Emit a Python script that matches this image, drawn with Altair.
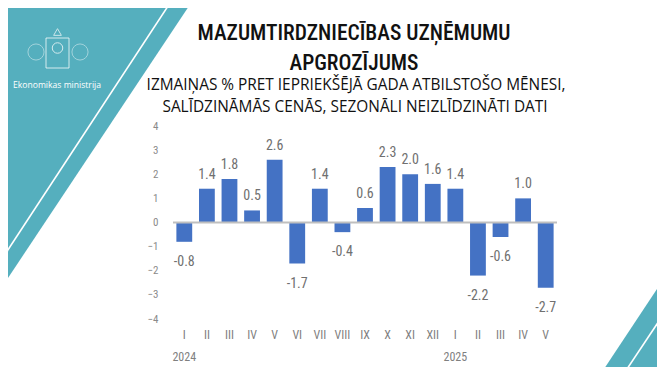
import altair as alt
import pandas as pd

# ---- data ----
months = ["I", "II", "III", "IV", "V", "VI", "VII", "VIII", "IX", "X", "XI", "XII",
          "I", "II", "III", "IV", "V"]
years = [2024] * 12 + [2025] * 5
values = [-0.8, 1.4, 1.8, 0.5, 2.6, -1.7, 1.4, -0.4, 0.6, 2.3, 2.0, 1.6,
          1.4, -2.2, -0.6, 1.0, -2.7]
y_ticks = [-4, -3, -2, -1, 0, 1, 2, 3, 4]

title_lines = ["MAZUMTIRDZNIECĪBAS UZŅĒMUMU", "APGROZĪJUMS"]
subtitle_lines = ["IZMAIŅAS % PRET IEPRIEKŠĒJĀ GADA ATBILSTOŠO MĒNESI,",
                  "SALĪDZINĀMĀS CENĀS, SEZONĀLI NEIZLĪDZINĀTI DATI"]
logo_text = "Ekonomikas ministrija"

# decorative page shapes (page pixel space 665 x 375)
left_tri_x = [0, 193]
left_tri_y = [290, 0]
right_tri_x = [600, 665]
right_tri_y = [375, 277]
left_line_x = [172, 0]
left_line_y = [0, 262]
right_line_x = [623, 665]
right_line_y = [375, 312]

# ---- layout ----
W, H = 384, 193
PAD_L, PAD_T = 165, 118
PAGE_X0, PAGE_Y0 = PAD_L + 8, PAD_T + 8  # plot origin in page pixels

TEAL = "#55AFBE"
BAR = "#4472C4"
NARROW = "Liberation Sans Narrow, Roboto Condensed, DejaVu Sans Condensed, sans-serif"

keys = [f"{m}|{y}|{i}" for i, (m, y) in enumerate(zip(months, years))]
df = pd.DataFrame({"key": keys, "month": months, "year": years, "value": values})
df["label"] = df["value"].map(lambda v: f"{v:.1f}")

xscale = alt.Scale(paddingInner=0.3, paddingOuter=0.15)
yscale = alt.Scale(domain=[-4, 4], nice=False)
xaxis = alt.Axis(title=None, labelExpr="split(datum.label, '|')[0]",
                 labelAngle=0, ticks=False, domain=False, labelPadding=10,
                 labelFont=NARROW, labelFontSize=12, labelColor="#808080")
yaxis = alt.Axis(title=None, values=y_ticks, ticks=False, domain=False, grid=False,
                 labelPadding=15, labelFont=NARROW, labelFontSize=11,
                 labelColor="#8a8a8a", labelOverlap=False)

def X():
    return alt.X("key:N", sort=keys, scale=xscale, axis=xaxis)

def Y(field="value:Q"):
    return alt.Y(field, scale=yscale, axis=yaxis)

base = alt.Chart(df)

bars = base.mark_bar(color=BAR).encode(x=X(), y=Y())

zero = alt.Chart(pd.DataFrame({"z": [0]})).mark_rule(color="#BFBFBF", strokeWidth=2).encode(
    y=Y("z:Q"))

lbl_pos = base.transform_filter("datum.value >= 0").mark_text(
    baseline="alphabetic", dy=-10, font=NARROW, fontSize=14, color="#707070").encode(
    x=X(), y=Y(), text="label:N")
lbl_neg = base.transform_filter("datum.value < 0").mark_text(
    baseline="alphabetic", dy=24, font=NARROW, fontSize=14, color="#707070").encode(
    x=X(), y=Y(), text="label:N")

year_df = df.groupby("year", as_index=False).first()
year_lbl = alt.Chart(year_df).mark_text(
    baseline="middle", font=NARROW, fontSize=12, color="#808080").encode(
    x=X(), y=alt.value(H + 38), text="year:N")

# decorative / text layers in page-pixel coordinates
px = alt.Scale(domain=[0, 665], range=[-PAGE_X0, 665 - PAGE_X0])
py = alt.Scale(domain=[0, 375], range=[-PAGE_Y0, 375 - PAGE_Y0])

def PX(f="px:Q"):
    return alt.X(f, scale=px, axis=None)

def PY(f="py:Q"):
    return alt.Y(f, scale=py, axis=None)

def tri(xs, ys, y2v):
    d = pd.DataFrame({"px": xs, "py": ys, "py2": [y2v] * len(xs)})
    return alt.Chart(d).mark_area(color=TEAL, clip=False, opacity=1).encode(
        x=PX(), y=PY(), y2="py2:Q")

def wline(xs, ys):
    d = pd.DataFrame({"px": xs, "py": ys})
    return alt.Chart(d).mark_line(color="white", strokeWidth=1.6, clip=False).encode(
        x=PX(), y=PY())

logo = alt.Chart(pd.DataFrame({"px": [57], "py": [85], "t": [logo_text]})).mark_text(
    color="white", fontSize=8.6, font="Open Sans, sans-serif", baseline="middle").encode(
    x=PX(), y=PY(), text="t:N")

# simplified emblem outline
shield = alt.Chart(pd.DataFrame({"px": [46], "px2": [69], "py": [38], "py2": [68]})).mark_rect(
    fill=None, stroke="white", strokeWidth=1, opacity=0.75, clip=False).encode(
    x=PX(), x2="px2:Q", y=PY(), y2="py2:Q")
sun = alt.Chart(pd.DataFrame({"px": [57.5], "py": [48]})).mark_point(
    shape="circle", size=110, stroke="white", strokeWidth=1, opacity=0.75, clip=False).encode(
    x=PX(), y=PY())
crown = alt.Chart(pd.DataFrame({"px": [57.5], "py": [32]})).mark_point(
    shape="triangle-up", size=60, stroke="white", strokeWidth=1, opacity=0.7, clip=False).encode(
    x=PX(), y=PY())
sides = alt.Chart(pd.DataFrame({"px": [36, 80], "py": [52, 52]})).mark_point(
    shape="circle", size=260, stroke="white", strokeWidth=1, opacity=0.45, clip=False).encode(
    x=PX(), y=PY())

title_df = pd.DataFrame({"px": [354, 354], "py": [40, 70], "t": title_lines})
title = alt.Chart(title_df).mark_text(
    font=NARROW, fontSize=21.5, fontWeight=500, color="#111111", baseline="alphabetic",
    clip=False).encode(x=PX(), y=PY(), text="t:N")
sub_df = pd.DataFrame({"px": [356, 355], "py": [90, 112], "t": subtitle_lines})
subtitle = alt.Chart(sub_df).mark_text(
    font="Open Sans, sans-serif", fontSize=15.4, color="#111111", baseline="alphabetic",
    clip=False).encode(x=PX(), y=PY(), text="t:N")

deco = alt.layer(tri(left_tri_x, left_tri_y, 0), tri(right_tri_x, right_tri_y, 375),
                 wline(left_line_x, left_line_y), wline(right_line_x, right_line_y),
                 shield, sun, crown, sides, logo, title, subtitle)

main = alt.layer(bars, zero, lbl_pos, lbl_neg, year_lbl)

chart = alt.layer(deco, main).resolve_scale(x="independent", y="independent").properties(
    width=W, height=H,
    autosize=alt.AutoSizeParams(type="none"),
    padding={"left": PAD_L, "top": PAD_T, "right": 649 - PAD_L - W, "bottom": 359 - PAD_T - H},
).configure_view(stroke=None)

chart.save("out.html", embed_options={"renderer": "svg", "actions": False})
